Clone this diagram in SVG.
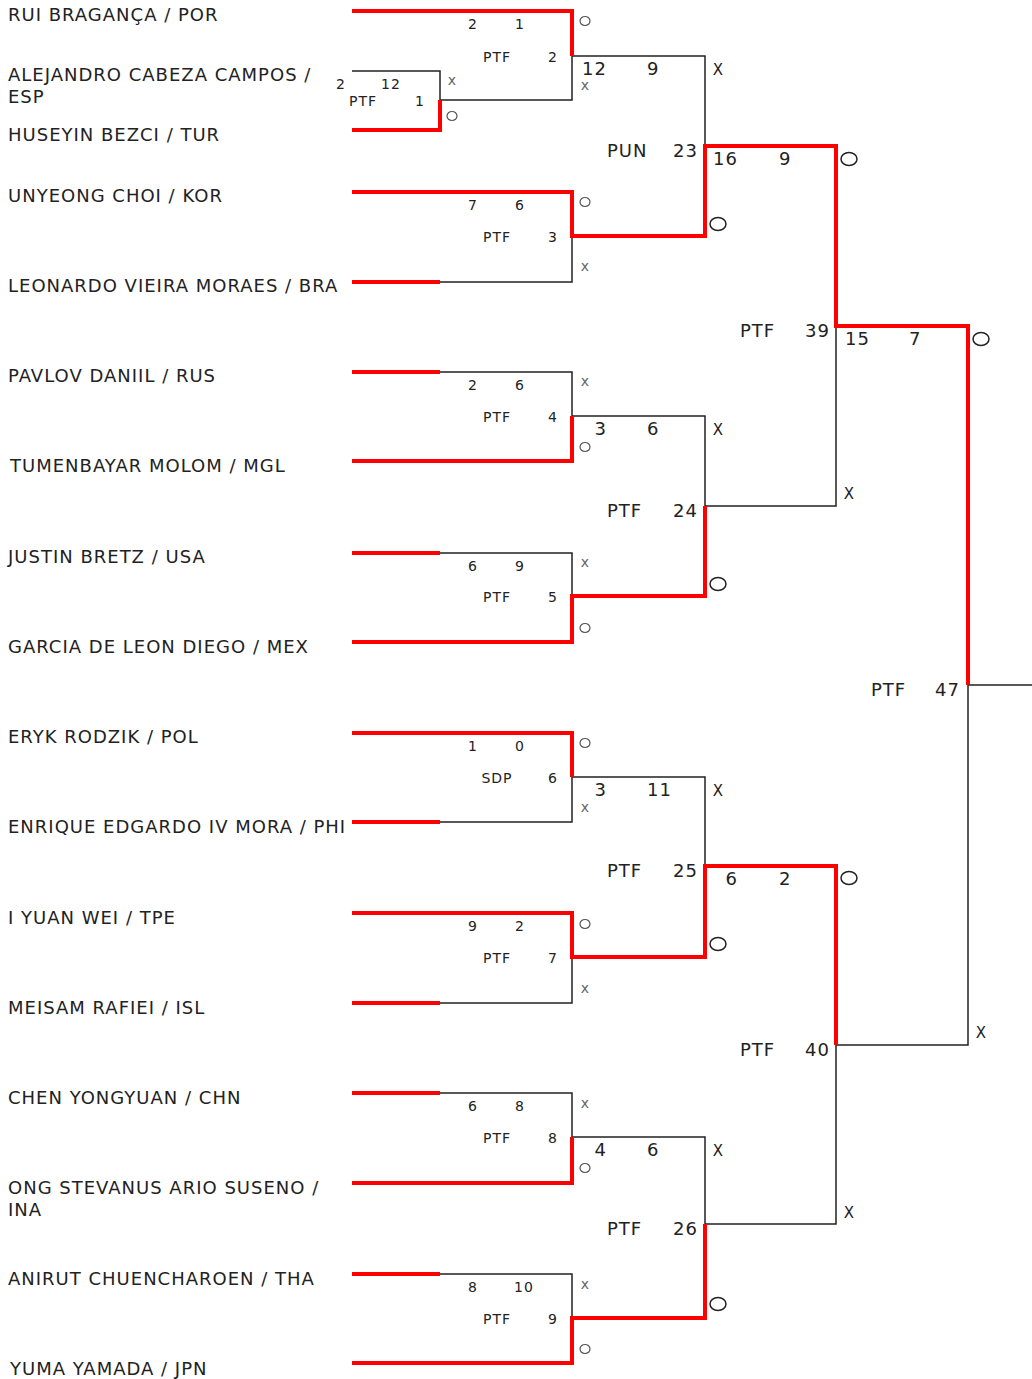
<svg xmlns="http://www.w3.org/2000/svg" width="1032" height="1379" viewBox="0 0 1032 1379">
<style>
text{font-family:"DejaVu Sans","Liberation Sans",sans-serif;fill:#222}
.nm{font-size:18px;letter-spacing:1px}
.s{font-size:14px;letter-spacing:1px;text-anchor:middle}
.b{font-size:18px;letter-spacing:1px}
.e{text-anchor:end}
.sx{font-size:14px;fill:#666;text-anchor:middle}
.bx{font-size:15px;fill:#222;text-anchor:middle}
.so{fill:none;stroke:#555;stroke-width:1.2}
.bo{fill:none;stroke:#222;stroke-width:1.5}
.k{fill:none;stroke:#222;stroke-width:1.5}
.r{fill:none;stroke:#ff0000;stroke-width:4;stroke-linejoin:miter;stroke-linecap:butt}
</style>
<rect width="1032" height="1379" fill="#fff"/>
<g id="connectors">
<g id="black-lines">
<polyline class="k" points="352,71 440,71 440,100 572,100 572,56 705,56 705,146"/>
<polyline class="k" points="440,282 572,282 572,236"/>
<polyline class="k" points="440,372 572,372 572,416 705,416 705,506 836,506 836,326"/>
<polyline class="k" points="440,553 572,553 572,596"/>
<polyline class="k" points="572,777 705,777 705,866"/>
<polyline class="k" points="440,822 572,822 572,777"/>
<polyline class="k" points="440,1003 572,1003 572,957"/>
<polyline class="k" points="440,1093 572,1093 572,1137 705,1137 705,1224 836,1224 836,1045 968,1045 968,685 1032,685"/>
<polyline class="k" points="440,1274 572,1274 572,1318"/>
</g>
<g id="red-lines">
<polyline class="r" points="352,130 440,130 440,100"/>
<polyline class="r" points="352,11 572,11 572,56"/>
<polyline class="r" points="352,192 572,192 572,236 705,236 705,146 836,146 836,326 968,326 968,685"/>
<polyline class="r" points="352,282 440,282"/>
<polyline class="r" points="352,372 440,372"/>
<polyline class="r" points="352,461 572,461 572,416"/>
<polyline class="r" points="352,553 440,553"/>
<polyline class="r" points="352,642 572,642 572,596 705,596 705,506"/>
<polyline class="r" points="352,733 572,733 572,777"/>
<polyline class="r" points="352,822 440,822"/>
<polyline class="r" points="352,913 572,913 572,957 705,957 705,866 836,866 836,1045"/>
<polyline class="r" points="352,1003 440,1003"/>
<polyline class="r" points="352,1093 440,1093"/>
<polyline class="r" points="352,1183 572,1183 572,1137"/>
<polyline class="r" points="352,1274 440,1274"/>
<polyline class="r" points="352,1363 572,1363 572,1318 705,1318 705,1224"/>
</g>
</g>
<g id="players">
<g id="p1"><text class="nm" x="8" y="21">RUI BRAGANÇA / POR</text></g>
<g id="p2"><text class="nm" x="8" y="81">ALEJANDRO CABEZA CAMPOS /</text><text class="nm" x="8" y="103">ESP</text></g>
<g id="p3"><text class="nm" x="8" y="141">HUSEYIN BEZCI / TUR</text></g>
<g id="p4"><text class="nm" x="8" y="202">UNYEONG CHOI / KOR</text></g>
<g id="p5"><text class="nm" x="8" y="292">LEONARDO VIEIRA MORAES / BRA</text></g>
<g id="p6"><text class="nm" x="8" y="382">PAVLOV DANIIL / RUS</text></g>
<g id="p7"><text class="nm" x="10" y="472">TUMENBAYAR MOLOM / MGL</text></g>
<g id="p8"><text class="nm" x="8" y="563">JUSTIN BRETZ / USA</text></g>
<g id="p9"><text class="nm" x="8" y="653">GARCIA DE LEON DIEGO / MEX</text></g>
<g id="p10"><text class="nm" x="8" y="743">ERYK RODZIK / POL</text></g>
<g id="p11"><text class="nm" x="8" y="833">ENRIQUE EDGARDO IV MORA / PHI</text></g>
<g id="p12"><text class="nm" x="8" y="924">I YUAN WEI / TPE</text></g>
<g id="p13"><text class="nm" x="8" y="1014">MEISAM RAFIEI / ISL</text></g>
<g id="p14"><text class="nm" x="8" y="1104">CHEN YONGYUAN / CHN</text></g>
<g id="p15"><text class="nm" x="8" y="1194">ONG STEVANUS ARIO SUSENO /</text><text class="nm" x="8" y="1216">INA</text></g>
<g id="p16"><text class="nm" x="8" y="1285">ANIRUT CHUENCHAROEN / THA</text></g>
<g id="p17"><text class="nm" x="10" y="1375">YUMA YAMADA / JPN</text></g>
</g>
<g id="matches">
<g id="m1"><text class="s" x="341" y="89">2</text><text class="s" x="391" y="89">12</text><text class="s" x="363" y="106">PTF</text><text class="s" x="420" y="106">1</text><text class="sx" x="452" y="85">x</text><ellipse class="so" cx="452" cy="116" rx="5" ry="4.5"/></g>
<g id="m2"><text class="s" x="473" y="29">2</text><text class="s" x="520" y="29">1</text><text class="s" x="497" y="62">PTF</text><text class="s" x="553" y="62">2</text><ellipse class="so" cx="585" cy="21" rx="5" ry="4.5"/><text class="sx" x="585" y="90">x</text></g>
<g id="m3"><text class="s" x="473" y="210">7</text><text class="s" x="520" y="210">6</text><text class="s" x="497" y="242">PTF</text><text class="s" x="553" y="242">3</text><ellipse class="so" cx="585" cy="202" rx="5" ry="4.5"/><text class="sx" x="585" y="271">x</text></g>
<g id="m4"><text class="s" x="473" y="390">2</text><text class="s" x="520" y="390">6</text><text class="s" x="497" y="422">PTF</text><text class="s" x="553" y="422">4</text><text class="sx" x="585" y="386">x</text><ellipse class="so" cx="585" cy="447" rx="5" ry="4.5"/></g>
<g id="m5"><text class="s" x="473" y="571">6</text><text class="s" x="520" y="571">9</text><text class="s" x="497" y="602">PTF</text><text class="s" x="553" y="602">5</text><text class="sx" x="585" y="567">x</text><ellipse class="so" cx="585" cy="628" rx="5" ry="4.5"/></g>
<g id="m6"><text class="s" x="473" y="751">1</text><text class="s" x="520" y="751">0</text><text class="s" x="497" y="783">SDP</text><text class="s" x="553" y="783">6</text><ellipse class="so" cx="585" cy="743" rx="5" ry="4.5"/><text class="sx" x="585" y="812">x</text></g>
<g id="m7"><text class="s" x="473" y="931">9</text><text class="s" x="520" y="931">2</text><text class="s" x="497" y="963">PTF</text><text class="s" x="553" y="963">7</text><ellipse class="so" cx="585" cy="924" rx="5" ry="4.5"/><text class="sx" x="585" y="993">x</text></g>
<g id="m8"><text class="s" x="473" y="1111">6</text><text class="s" x="520" y="1111">8</text><text class="s" x="497" y="1143">PTF</text><text class="s" x="553" y="1143">8</text><text class="sx" x="585" y="1108">x</text><ellipse class="so" cx="585" cy="1168" rx="5" ry="4.5"/></g>
<g id="m9"><text class="s" x="473" y="1292">8</text><text class="s" x="524" y="1292">10</text><text class="s" x="497" y="1324">PTF</text><text class="s" x="553" y="1324">9</text><text class="sx" x="585" y="1289">x</text><ellipse class="so" cx="585" cy="1349" rx="5" ry="4.5"/></g>
<g id="m23"><text class="b e" x="607" y="74.5">12</text><text class="b" x="647" y="74.5">9</text><text class="b" x="607" y="156.5">PUN</text><text class="b e" x="698" y="156.5">23</text><text class="bx" x="718" y="74.5">X</text><ellipse class="bo" cx="718" cy="224" rx="8" ry="6.5"/></g>
<g id="m24"><text class="b e" x="607" y="434.5">3</text><text class="b" x="647" y="434.5">6</text><text class="b" x="607" y="516.5">PTF</text><text class="b e" x="698" y="516.5">24</text><text class="bx" x="718" y="434.5">X</text><ellipse class="bo" cx="718" cy="584" rx="8" ry="6.5"/></g>
<g id="m25"><text class="b e" x="607" y="795.5">3</text><text class="b" x="647" y="795.5">11</text><text class="b" x="607" y="876.5">PTF</text><text class="b e" x="698" y="876.5">25</text><text class="bx" x="718" y="795.5">X</text><ellipse class="bo" cx="718" cy="944" rx="8" ry="6.5"/></g>
<g id="m26"><text class="b e" x="607" y="1155.5">4</text><text class="b" x="647" y="1155.5">6</text><text class="b" x="607" y="1234.5">PTF</text><text class="b e" x="698" y="1234.5">26</text><text class="bx" x="718" y="1155.5">X</text><ellipse class="bo" cx="718" cy="1304" rx="8" ry="6.5"/></g>
<g id="m39"><text class="b e" x="738" y="164.5">16</text><text class="b" x="779" y="164.5">9</text><text class="b" x="740" y="336.5">PTF</text><text class="b e" x="830" y="336.5">39</text><ellipse class="bo" cx="849" cy="159" rx="8" ry="6.5"/><text class="bx" x="849" y="498.5">X</text></g>
<g id="m40"><text class="b e" x="738" y="884.5">6</text><text class="b" x="779" y="884.5">2</text><text class="b" x="740" y="1055.5">PTF</text><text class="b e" x="830" y="1055.5">40</text><ellipse class="bo" cx="849" cy="878" rx="8" ry="6.5"/><text class="bx" x="849" y="1217.5">X</text></g>
<g id="m47"><text class="b e" x="870" y="344.5">15</text><text class="b" x="909" y="344.5">7</text><text class="b" x="871" y="695.5">PTF</text><text class="b e" x="960" y="695.5">47</text><ellipse class="bo" cx="981" cy="339" rx="8" ry="6.5"/><text class="bx" x="981" y="1037.5">X</text></g>
</g>
</svg>
